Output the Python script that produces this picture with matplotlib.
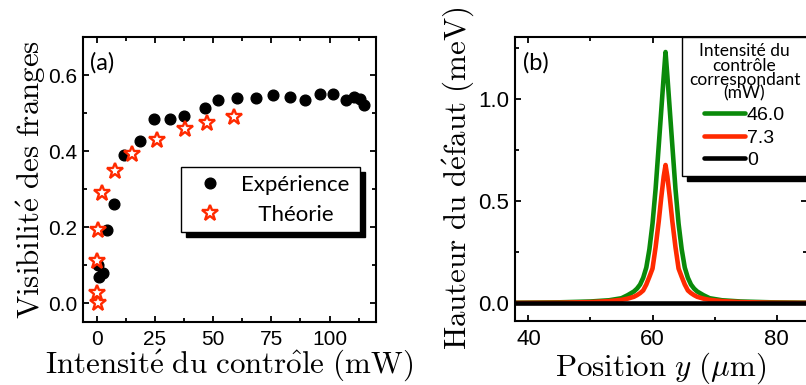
import numpy as np
import matplotlib
matplotlib.use("Agg")
import matplotlib.pyplot as plt
from matplotlib.ticker import MultipleLocator, FormatStrFormatter

plt.rcParams['mathtext.fontset'] = 'cm'

# --- panel (a): fringe visibility vs control intensity ---
exp_power = [1.0, 0.6, 2.8, 4.6, 7.6, 11.9, 18.5, 24.5, 31.5, 37.4, 46.4, 52.2,
             60.3, 68.4, 75.7, 83.1, 89.4, 96.1, 101.6, 107.1, 110.5, 113.2, 114.6]
exp_visib = [0.068, 0.100, 0.078, 0.192, 0.260, 0.390, 0.427, 0.484, 0.485, 0.492, 0.514, 0.534,
             0.540, 0.540, 0.548, 0.542, 0.534, 0.549, 0.550, 0.534, 0.542, 0.536, 0.520]

th_power = [0.4, 0.0, 0.3, 0.4, 2.4, 8.0, 15.2, 26.1, 38.0, 47.4, 58.9]
th_visib = [0.000, 0.027, 0.111, 0.192, 0.289, 0.347, 0.391, 0.429, 0.459, 0.474, 0.490]

# --- panel (b): defect height profiles ---
position = [37.85, 45.0, 50.0, 53.0, 55.0, 56.0, 57.0, 57.5, 58.0, 58.5, 59.0, 59.5,
            60.0, 60.5, 61.0, 61.4, 61.8, 62.1,
            62.4, 62.8, 63.2, 63.7, 64.2, 64.7, 65.2, 65.7, 66.2, 66.7, 67.2, 68.2,
            69.2, 71.2, 74.2, 79.1, 85.0]
height_46 = [0.003, 0.005, 0.009, 0.015, 0.025, 0.040, 0.058, 0.072, 0.092, 0.125, 0.175, 0.265,
             0.390, 0.560, 0.770, 0.940, 1.110, 1.230,
             1.110, 0.940, 0.770, 0.560, 0.390, 0.265, 0.175, 0.125, 0.092, 0.072, 0.058, 0.040,
             0.025, 0.015, 0.009, 0.005, 0.003]
height_7 = [0.002, 0.003, 0.006, 0.011, 0.017, 0.023, 0.032, 0.040, 0.050, 0.063, 0.092, 0.130,
            0.170, 0.275, 0.400, 0.515, 0.620, 0.677,
            0.620, 0.515, 0.400, 0.275, 0.170, 0.130, 0.092, 0.063, 0.050, 0.040, 0.032, 0.023,
            0.017, 0.011, 0.006, 0.003, 0.002]
height_0 = [0.0] * len(position)

curve_labels = ['46.0', '7.3', '0']
curve_colors = ['#0a8a0a', '#ff2a00', 'black']

tick_font = 'Liberation Sans'
legend_font = 'Lato'
label_size = 22.3


def style_axes(ax, xmaj, xmin, ymaj, ymin, size):
    for sp in ax.spines.values():
        sp.set_linewidth(1.5)
    ax.xaxis.set_major_locator(MultipleLocator(xmaj))
    ax.xaxis.set_minor_locator(MultipleLocator(xmin))
    ax.yaxis.set_major_locator(MultipleLocator(ymaj))
    ax.yaxis.set_minor_locator(MultipleLocator(ymin))
    ax.yaxis.set_major_formatter(FormatStrFormatter('%.1f'))
    ax.tick_params(which='both', direction='in', top=True, right=True, width=1.3)
    ax.tick_params(which='major', length=4.5)
    ax.tick_params(which='minor', length=3)
    ax.tick_params(axis='x', which='major', pad=6, labelsize=size)
    ax.tick_params(axis='y', which='major', pad=4, labelsize=size)
    for lab in ax.get_xticklabels() + ax.get_yticklabels():
        lab.set_fontfamily(tick_font)


fig = plt.figure(figsize=(8.06, 3.85), dpi=100)
ax1 = fig.add_axes([0.1026, 0.1636, 0.364, 0.740])
ax2 = fig.add_axes([0.639, 0.167, 0.3623, 0.7377])

# (a)
ax1.plot(exp_power, exp_visib, 'o', color='black', ms=7.7, label='Expérience', zorder=3)
ax1.plot(th_power, th_visib, '*', mfc='white', mec='#ff2a00', mew=1.7, ms=12,
         label='   Théorie', zorder=4)
ax1.set_xlim(-6, 120)
ax1.set_ylim(-0.05, 0.70)
style_axes(ax1, 25, 12.5, 0.2, 0.1, 15)
ax1.set_xlabel(r'$\mathrm{Intensit\acute{e}\ du\ contr\hat{o}le\ (mW)}$', fontsize=label_size, labelpad=-1)
ax1.set_ylabel(r'$\mathrm{Visibilit\acute{e}\ des\ franges}$', fontsize=label_size, labelpad=0)
ax1.text(0.025, 0.909, '(a)', transform=ax1.transAxes, fontsize=17, fontfamily=legend_font,
         va='center', ha='left')
leg1 = ax1.legend(loc='upper left', bbox_to_anchor=(0.334, 0.545, 0.611, 0.0), mode='expand',
                  borderaxespad=0, fancybox=False, edgecolor='black', framealpha=1,
                  shadow={'color': 'black', 'alpha': 1, 'ox': 3.5, 'oy': -3.5},
                  prop={'family': legend_font, 'size': 16}, handlelength=1.9, handletextpad=0.45,
                  borderpad=0.35, labelspacing=0.45, numpoints=1)
leg1.get_frame().set_linewidth(1.0)

# (b)
for h, lab, c in zip([height_46, height_7, height_0], curve_labels, curve_colors):
    ax2.plot(position, h, color=c, lw=3.3, label=lab, solid_capstyle='round',
             solid_joinstyle='round')
ax2.set_xlim(37.85, 84.9)
ax2.set_ylim(-0.085, 1.305)
style_axes(ax2, 20, 10, 0.5, 0.25, 16)
ax2.set_xlabel(r'$\mathrm{Position}\ y\ (\mu\mathrm{m})$', fontsize=label_size, labelpad=0)
ax2.set_ylabel(r'$\mathrm{Hauteur\ du\ d\acute{e}faut\ (meV)}$', fontsize=label_size, labelpad=2)
ax2.text(0.027, 0.909, '(b)', transform=ax2.transAxes, fontsize=17, fontfamily=legend_font,
         va='center', ha='left')
leg2 = ax2.legend(loc='upper right', bbox_to_anchor=(1.0, 1.0), borderaxespad=0,
                  title='Intensité du\ncontrôle\ncorrespondant\n(mW)',
                  title_fontproperties={'family': legend_font, 'size': 12.5},
                  fancybox=False, edgecolor='black', framealpha=1,
                  shadow={'color': 'black', 'alpha': 1, 'ox': 3.5, 'oy': -3.5},
                  prop={'family': tick_font, 'size': 14}, handlelength=2.1, handletextpad=0.1,
                  borderpad=0.35, labelspacing=0.25)
leg2.get_title().set_linespacing(0.85)
leg2.get_title().set_multialignment('center')
leg2.get_frame().set_linewidth(1.0)

fig.savefig('out.png', dpi=100)
